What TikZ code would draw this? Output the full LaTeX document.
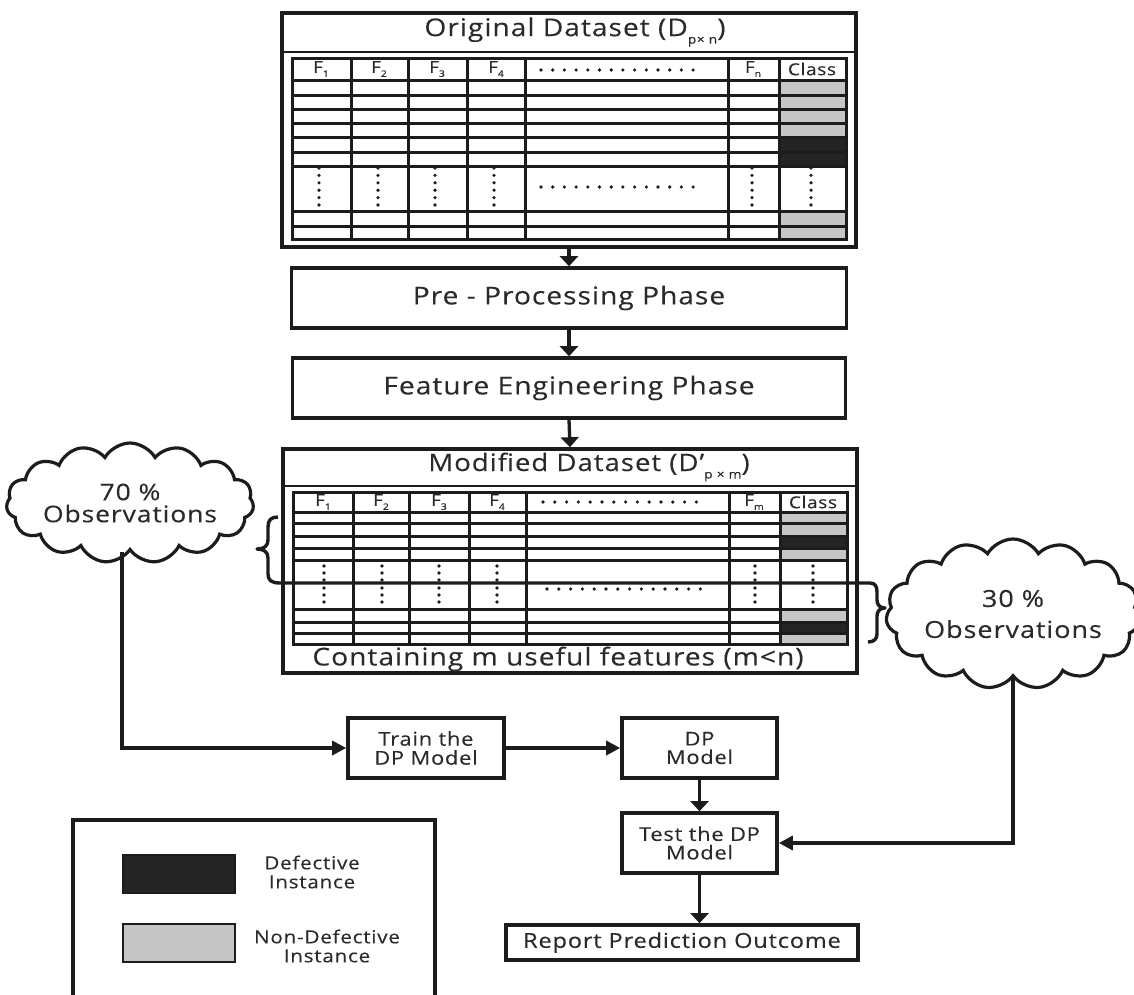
\documentclass[tikz,border=0pt]{standalone}
\usepackage{fontspec}
\setmainfont{Open Sans}[FakeStretch=1.15,LetterSpace=4,FakeBold=0.2]
\usetikzlibrary{shapes.symbols,arrows.meta}
\definecolor{ink}{HTML}{1E1B1C}
\definecolor{txt}{HTML}{2A2A2A}
\definecolor{gcell}{HTML}{C6C6C6}
\definecolor{dcell}{HTML}{242424}
\newcommand\fsz[2]{\fontsize{#1}{#2}\selectfont}
\newcommand\hsub[1]{\raisebox{-4pt}{\fsz{9}{9}#1}}
\newcommand\tsub[1]{\raisebox{-7.5pt}{\fsz{12}{12}#1}}
\begin{document}
\begin{tikzpicture}[x=1pt,y=-1pt,
  box/.style={draw=ink,line width=3.6pt,inner sep=0pt,text=txt,align=center},
  grid/.style={draw=ink,line width=3pt},
  hdr/.style={text=txt,inner sep=0pt,font=\fsz{16.5}{16.5}},
  dotc/.style={fill=ink},
  arrV/.style={draw=ink,line width=3.3pt,-{Triangle[length=10pt,width=18pt]}},
  arrH/.style={draw=ink,line width=3.3pt,-{Triangle[length=14pt,width=14pt]}},
  cloudbox/.style={cloud,draw=ink,line width=3.2pt,cloud ignores aspect,inner sep=0pt,text=txt,align=center},
  swatch/.style={draw=ink,line width=2.8pt,minimum width=112pt,minimum height=38pt,inner sep=0pt}]
\useasboundingbox (0,0) rectangle (1134,994);

% ---------------- Original dataset ----------------
\node[box,minimum width=574pt,minimum height=234pt] (orig) at (569,130) {};
\draw[grid,line width=2.6pt] (282,52) -- (856,52);
\node[text=txt,inner sep=0pt,font=\fsz{24.5}{24.5}] (otitle) at (575,32) {Original Dataset (D\tsub{p× n})};
\fill[gcell] (779,80) rectangle (846,137);
\fill[dcell] (779,137) rectangle (846,166);
\fill[gcell] (779,211) rectangle (846,239);
\foreach \y in {80,95,109,123,137,152,166,211,226} \draw[grid] (292,\y) -- (846,\y);
\foreach \x in {351,408,467,525,728,779} \draw[grid] (\x,58) -- (\x,239);
\draw[grid] (292,58) rectangle (846,239);
\node[hdr] (oh1) at (321,69) {F\hsub{1}};
\node[hdr] (oh2) at (379,69) {F\hsub{2}};
\node[hdr] (oh3) at (437,69) {F\hsub{3}};
\node[hdr] (oh4) at (496,69) {F\hsub{4}};
\node[hdr] (ohn) at (753,69) {F\hsub{n}};
\node[hdr] (ohc) at (812,69) {Class};
\foreach \i in {0,...,13} {
  \fill[dotc] (541+\i*11.7,70) circle[radius=1.8pt];
  \fill[dotc] (541+\i*11.7,187) circle[radius=1.8pt];
}
\foreach \x in {319,378,435,494,752,811} \foreach \j in {0,...,5}
  \fill[dotc] (\x,168+\j*7.4) circle[radius=1.8pt];

% ---------------- phases ----------------
\node[box,minimum width=555pt,minimum height=60pt,font=\fsz{24.5}{24.5}] (pre) at (569,298) {Pre - Processing Phase};
\node[box,minimum width=553pt,minimum height=60pt,font=\fsz{24.5}{24.5}] (feat) at (569,388) {Feature Engineering Phase};

% ---------------- Modified dataset ----------------
\node[box,minimum width=574pt,minimum height=224pt] (mod) at (570,561) {};
\draw[grid,line width=2.6pt] (283,486) -- (857,486);
\node[text=txt,inner sep=0pt,font=\fsz{24}{24}] (mtitle) at (589,467) {Modified Dataset (D’\tsub{p × m})};
\fill[gcell] (780,512) rectangle (847,536);
\fill[dcell] (780,536) rectangle (847,548);
\fill[gcell] (780,548) rectangle (847,560);
\fill[gcell] (780,609) rectangle (847,622);
\fill[dcell] (780,622) rectangle (847,633);
\fill[gcell] (780,633) rectangle (847,644);
\foreach \y in {512,523,536,548,560,609,622,633} \draw[grid] (293,\y) -- (847,\y);
\foreach \x in {353,409,469,526,729,780} \draw[grid] (\x,492) -- (\x,644);
\draw[grid] (293,492) rectangle (847,644);
\node[hdr] (mh1) at (323,502) {F\hsub{1}};
\node[hdr] (mh2) at (381,502) {F\hsub{2}};
\node[hdr] (mh3) at (439,502) {F\hsub{3}};
\node[hdr] (mh4) at (497,502) {F\hsub{4}};
\node[hdr] (mhm) at (754,502) {F\hsub{m}};
\node[hdr] (mhc) at (813,502) {Class};
\foreach \i in {0,...,13} {
  \fill[dotc] (543+\i*11.8,502) circle[radius=1.8pt];
  \fill[dotc] (547+\i*11.8,589) circle[radius=1.8pt];
}
\foreach \x in {324,382,439,497,755,813} \foreach \yy in {566,573,580,588,595,602}
  \fill[dotc] (\x,\yy) circle[radius=1.8pt];
\node[text=txt,inner sep=0pt,font=\fsz{24.5}{24.5}] (mfoot) at (558,659) {Containing m useful features (m<n)};

% brace split line
\draw[draw=ink,line width=3.4pt,line join=round]
  (278,517) .. controls (271,517) and (268,520) .. (268,527) -- (268,540)
  .. controls (268,546) and (264,549) .. (257,549)
  .. controls (264,549) and (268,552) .. (268,558) -- (268,574)
  .. controls (268,580) and (271,583) .. (280,583) -- (870,583)
  .. controls (875,583) and (877,586) .. (877,592) -- (877,600)
  .. controls (877,605) and (880,608) .. (885,608)
  .. controls (880,608) and (877,611) .. (877,616) -- (877,634)
  .. controls (877,639) and (874,642) .. (868,642);

% ---------------- clouds ----------------
\node[cloudbox,cloud puffs=15,cloud puff arc=120,minimum width=234pt,minimum height=120pt,font=\fsz{23}{22}] (c70) at (130,503) {70 \%\\Observations};
\node[cloudbox,cloud puffs=15,cloud puff arc=120,minimum width=222pt,minimum height=150pt,font=\fsz{23.5}{31}] (c30) at (1013,614) {30 \%\\Observations};

% ---------------- model boxes ----------------
\node[box,minimum width=156pt,minimum height=60pt,font=\fsz{19}{19}] (train) at (426,748) {Train the\\DP Model};
\node[box,minimum width=155pt,minimum height=60pt,font=\fsz{19}{18.5}] (dp) at (699.5,748) {DP\\Model};
\node[box,minimum width=155pt,minimum height=60pt,font=\fsz{19}{18.5}] (test) at (699.5,843) {Test the DP\\Model};
\node[box,minimum width=352pt,minimum height=35pt,font=\fsz{20.5}{20.5}] (report) at (682,942.5) {Report Prediction Outcome};

% ---------------- connectors ----------------
\draw[arrV] (orig.south) -- (pre.north);
\draw[arrV] (pre.south) -- (feat.north);
\draw[arrV] (feat.south) -- (mod.north);
\draw[arrH] (train.east) -- (dp.west);
\draw[arrV] (dp.south) -- (test.north);
\draw[arrV] (test.south) -- (test.south |- report.north);
\draw[arrH] ([xshift=-8pt]c70.south) |- (train.west);
\draw[arrH] (c30.south) |- (test.east);

% ---------------- legend ----------------
\draw[draw=ink,line width=3.4pt] (73,996) -- (73,820) -- (435,820) -- (435,996);
\node[swatch,fill=dcell] (sdef) at (179,874) {};
\node[swatch,fill=gcell] (snon) at (179,943) {};
\node[text=txt,align=center,inner sep=0pt,font=\fsz{18}{19}] (ldef) at (312,872) {Defective\\Instance};
\node[text=txt,align=center,inner sep=0pt,font=\fsz{18}{19}] (lnon) at (327,946) {Non-Defective\\Instance};
\end{tikzpicture}
\end{document}
